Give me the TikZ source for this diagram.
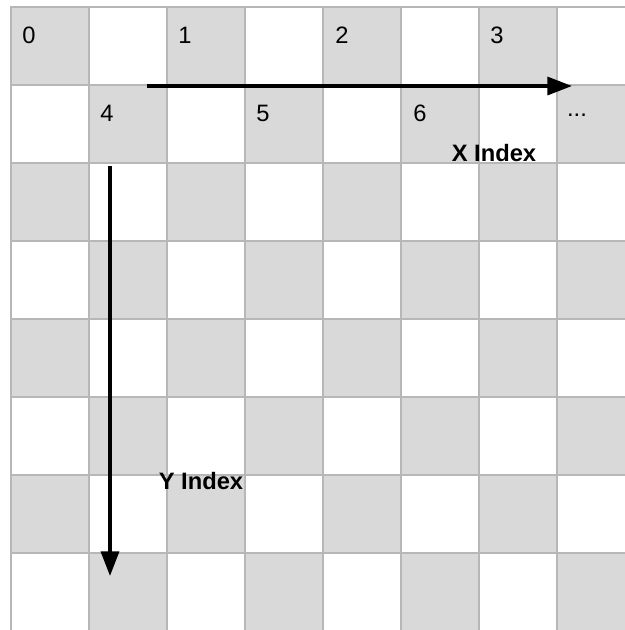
\documentclass[tikz,border=0pt]{standalone}
\usepackage{fontspec}
\setmainfont{Liberation Sans}
\usepackage{tikz}
\usetikzlibrary{arrows.meta}
\definecolor{cellgray}{HTML}{D9D9D9}
\definecolor{gridgray}{HTML}{B7B7B7}

\begin{document}
\begin{tikzpicture}[
  x=0.02cm, y=-0.02cm,
  font=\fontsize{13.5}{16}\selectfont,
  cell/.style={draw=gridgray, line width=0.6pt},
  num/.style={inner sep=0pt, anchor=center},
  axis/.style={-{Triangle[length=14pt, width=10.2pt]}, line width=2pt},
  axlabel/.style={inner sep=0pt, font=\fontsize{13.5}{16}\selectfont\bfseries}]

\useasboundingbox (0,0) rectangle (625,630);
\clip (0,0) rectangle (625,630);

% checkerboard
\foreach \i in {0,...,8}
  \foreach \j in {0,...,8} {
    \pgfmathtruncatemacro{\oddcell}{mod(\i+\j,2)}
    \ifnum\oddcell=0
      \filldraw[cell, fill=cellgray] (11+78*\i, 7+78*\j) rectangle ++(78,78);
    \else
      \draw[cell] (11+78*\i, 7+78*\j) rectangle ++(78,78);
    \fi
  }

% indices
\node[num] (n0) at (29,35) {0};
\node[num] (n1) at (185,35) {1};
\node[num] (n2) at (342,35) {2};
\node[num] (n3) at (497,35) {3};
\node[num] (n4) at (107,113) {4};
\node[num] (n5) at (263,113) {5};
\node[num] (n6) at (420,113) {6};
\node[num] (ndots) at (577,115) {...};

% axes
\coordinate (xs) at (147,86);
\coordinate (xe) at (572,86);
\coordinate (ys) at (110,166);
\coordinate (ye) at (110,576);
\draw[axis] (xs) -- (xe);
\draw[axis] (ys) -- (ye);
\node[axlabel] (xlab) at (494,153) {X Index};
\node[axlabel] (ylab) at (201,481) {Y Index};
\end{tikzpicture}
\end{document}
